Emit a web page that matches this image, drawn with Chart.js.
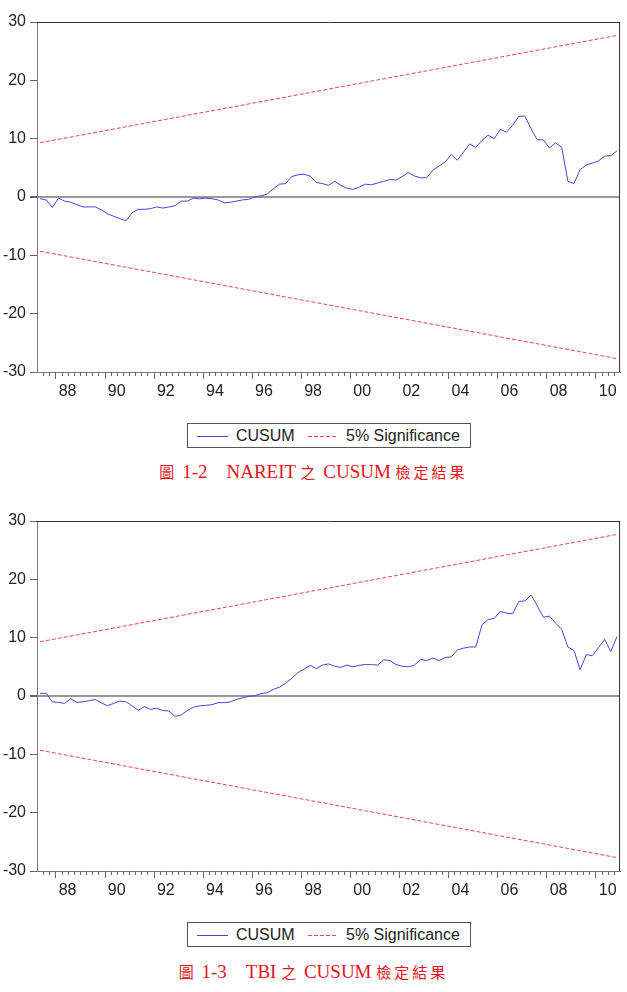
<!DOCTYPE html>
<html>
<head>
<meta charset="utf-8">
<script src="https://cdn.jsdelivr.net/npm/chart.js@4.4.0/dist/chart.umd.min.js"></script>
<style>
body { margin: 0; background: #fff; width: 627px; height: 992px; position: relative; overflow: hidden; font-family: "Liberation Sans", Arial, sans-serif; }
canvas.plot { position: absolute; left: 0; }
.legend { position: absolute; left: 187px; width: 282px; height: 23px; border: 1px solid #555; color: #222; font-size: 16px; }
.legend span { position: absolute; top: 3px; line-height: 17px; }
.legend i { position: absolute; top: 12px; height: 1px; }
.legend .blue { left: 9px; width: 31px; background: #4646d2; }
.legend .red { left: 120px; width: 28px; background: repeating-linear-gradient(90deg, #e24a4a 0 4px, transparent 4px 6px); }
.caption { position: absolute; left: 0; width: 627px; text-align: center; color: #e4141c; font-size: 19px; white-space: pre;
  font-family: "Liberation Serif", "Noto Sans CJK TC", serif; line-height: 24px; }
.caption .cjk { font-family: "Noto Sans CJK TC", sans-serif; font-size: 15px; letter-spacing: 3px; }
</style>
</head>
<body>
<canvas class="plot" id="c1" width="627" height="410" style="top:0"></canvas>
<div class="legend" style="top:423px"><i class="blue"></i><span style="left:48px">CUSUM</span><i class="red"></i><span style="left:158px">5% Significance</span></div>
<div class="caption" style="top:460px"><span class="cjk">圖</span> 1-2　NAREIT <span class="cjk">之</span> CUSUM <span class="cjk">檢定結果</span></div>

<canvas class="plot" id="c2" width="627" height="410" style="top:499px"></canvas>
<div class="legend" style="top:922px"><i class="blue"></i><span style="left:48px">CUSUM</span><i class="red"></i><span style="left:158px">5% Significance</span></div>
<div class="caption" style="top:960px"><span class="cjk">圖</span> 1-3　TBI <span class="cjk">之</span> CUSUM <span class="cjk">檢定結果</span></div>

<script>
// quarterly observations 1987Q2 .. 2010Q4
const quarters = [];
for (let y = 1987; y <= 2010; y++) {
    for (let q = 1; q <= 4; q++) {
        if (y === 1987 && q === 1) continue;
        quarters.push(y + 'Q' + q);
    }
}
const yearTicks = ['88', '90', '92', '94', '96', '98', '00', '02', '04', '06', '08', '10'];
const yTicks = [-30, -20, -10, 0, 10, 20, 30];

const nareitCusum = [
    -0.3, -0.5, -1.8, -0.2, -0.7, -0.9, -1.3, -1.7, -1.7, -1.7,
    -2.2, -2.9, -3.3, -3.7, -4.1, -2.7, -2.1, -2.1, -2.0, -1.7,
    -1.9, -1.7, -1.5, -0.7, -0.7, -0.2, -0.3, -0.2, -0.3, -0.5,
    -1.0, -0.9, -0.7, -0.5, -0.4, 0.05, 0.2, 0.5, 1.4, 2.2,
    2.3, 3.5, 3.8, 3.9, 3.6, 2.5, 2.3, 2.0, 2.7, 2.0,
    1.5, 1.3, 1.7, 2.2, 2.1, 2.4, 2.7, 3.0, 2.9, 3.5,
    4.2, 3.6, 3.3, 3.3, 4.6, 5.3, 6.0, 7.3, 6.3, 7.7,
    9.1, 8.5, 9.7, 10.6, 10.0, 11.6, 11.1, 12.3, 13.8, 13.9,
    11.7, 9.8, 9.8, 8.4, 9.3, 8.5, 2.7, 2.3, 4.7, 5.5,
    5.8, 6.2, 7.0, 7.1, 7.9
];
const tbiCusum = [
    0.46, 0.46, -1.0, -1.1, -1.26, -0.46, -1.1, -1.0, -0.8, -0.6,
    -1.2, -1.66, -1.26, -0.86, -1.0, -1.7, -2.46, -1.8, -2.3, -2.1,
    -2.5, -2.57, -3.5, -3.26, -2.5, -1.9, -1.7, -1.6, -1.5, -1.14,
    -1.14, -1.0, -0.6, -0.3, -0.06, 0.06, 0.4, 0.57, 1.14, 1.5,
    2.2, 3.0, 4.0, 4.6, 5.26, 4.7, 5.3, 5.5, 5.1, 4.9,
    5.3, 5.0, 5.26, 5.4, 5.37, 5.3, 6.2, 6.1, 5.4, 5.1,
    5.0, 5.3, 6.3, 6.06, 6.5, 6.06, 6.6, 6.7, 7.9, 8.2,
    8.4, 8.4, 12.2, 13.1, 13.3, 14.5, 14.2, 14.1, 16.2, 16.3,
    17.3, 15.5, 13.5, 13.7, 12.5, 11.4, 8.4, 7.8, 4.5, 7.1,
    6.9, 8.3, 9.7, 7.6, 10.2
];
// 5% significance bands, read at first and last observation
const bandQuarters = ['1987Q2', '2010Q4'];
const bandUpper = [9.3, 27.7];
const bandLower = [-9.3, -27.7];

const framePlugin = {
    id: 'frame',
    afterDraw(chart) {
        const { ctx, chartArea: a } = chart;
        const x = chart.scales.x;
        const half = (x.getPixelForValue(1) - x.getPixelForValue(0)) / 2;
        ctx.save();
        ctx.lineWidth = 1;
        ctx.strokeStyle = '#333';
        ctx.beginPath();
        ctx.moveTo(a.left, a.top + 0.5);
        ctx.lineTo(a.right, a.top + 0.5);
        ctx.moveTo(a.right - 0.5, a.top);
        ctx.lineTo(a.right - 0.5, a.bottom);
        ctx.stroke();

        // quarter tick marks, longer at the start of even years
        ctx.strokeStyle = '#666';
        ctx.beginPath();
        quarters.forEach((q, i) => {
            if (i === 0) return;
            const px = Math.round(x.getPixelForValue(i) - half) + 0.5;
            const major = q.endsWith('Q1') && parseInt(q) % 2 === 0;
            ctx.moveTo(px, a.bottom);
            ctx.lineTo(px, a.bottom + (major ? 7 : 4));
        });
        ctx.stroke();
        ctx.restore();
    }
};

function bandData(values) {
    return bandQuarters.map((q, i) => ({ x: q, y: values[i] }));
}

function makeChart(id, cusum) {
    const ctx = document.getElementById(id).getContext('2d');
    return new Chart(ctx, {
        type: 'line',
        data: {
            labels: quarters,
            datasets: [{
                label: 'CUSUM',
                data: cusum,
                borderColor: '#4646d2',
                borderWidth: 1,
                pointRadius: 0,
                tension: 0
            }, {
                label: '5% Significance',
                data: bandData(bandUpper),
                borderColor: '#e24a4a',
                borderWidth: 1,
                borderDash: [4, 2],
                pointRadius: 0,
                spanGaps: true
            }, {
                label: '5% Significance',
                data: bandData(bandLower),
                borderColor: '#e24a4a',
                borderWidth: 1,
                borderDash: [4, 2],
                pointRadius: 0,
                spanGaps: true
            }]
        },
        options: {
            responsive: false,
            animation: false,
            devicePixelRatio: 1,
            layout: { padding: { top: 22, right: 6, left: 0, bottom: 0 } },
            plugins: { legend: { display: false }, tooltip: { enabled: false } },
            scales: {
                x: {
                    type: 'category',
                    offset: true,
                    grid: { display: false, drawTicks: false },
                    border: { color: '#777' },
                    afterFit: s => { s.height = 38; },
                    ticks: {
                        autoSkip: false,
                        maxRotation: 0,
                        minRotation: 0,
                        labelOffset: 3,
                        padding: 10,
                        color: '#222',
                        font: { family: 'Liberation Sans', size: 16 },
                        callback: (v, i) => {
                            const q = quarters[i];
                            const yy = q.slice(2, 4);
                            return q.endsWith('Q2') && yearTicks.includes(yy) ? yy : '';
                        }
                    }
                },
                y: {
                    min: -30,
                    max: 30,
                    afterFit: s => { s.width = 37; },
                    afterBuildTicks: s => { s.ticks = yTicks.map(v => ({ value: v })); },
                    border: { color: '#777' },
                    grid: {
                        tickLength: 7,
                        tickColor: '#666',
                        color: c => c.tick && c.tick.value === 0 ? '#999' : 'rgba(0,0,0,0)',
                        lineWidth: c => c.tick && c.tick.value === 0 ? 2 : 1
                    },
                    ticks: {
                        padding: 4,
                        color: '#222',
                        font: { family: 'Liberation Sans', size: 16 }
                    }
                }
            }
        },
        plugins: [framePlugin]
    });
}

makeChart('c1', nareitCusum);
makeChart('c2', tbiCusum);
</script>
</body>
</html>
